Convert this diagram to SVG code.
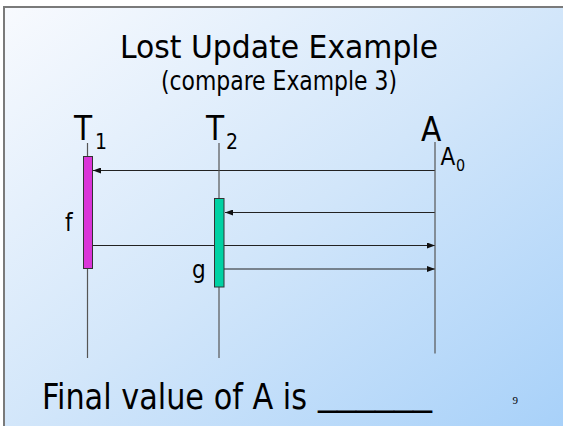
<svg xmlns="http://www.w3.org/2000/svg" width="563" height="426" viewBox="0 0 563 426">
  <defs>
    <linearGradient id="bg" x1="0" y1="0" x2="1" y2="1">
      <stop offset="0" stop-color="#F8FAFE"/>
      <stop offset="0.5" stop-color="#D2E6FA"/>
      <stop offset="1" stop-color="#A6D0F9"/>
    </linearGradient>
    <marker id="ah" viewBox="0 0 8 6" refX="8" refY="3" markerWidth="8" markerHeight="6" markerUnits="userSpaceOnUse" orient="auto">
      <path d="M0,0 L8,3 L0,6 Z" fill="#111"/>
    </marker>
    <style>
      text { font-family: "DejaVu Sans Condensed", "DejaVu Sans", sans-serif; font-stretch: condensed; fill: #000; }
      .life { stroke: #555; stroke-width: 1.2; }
      .msg { stroke: #222; stroke-width: 1.2; fill: none; marker-end: url(#ah); }
      .bar { stroke: #333; stroke-width: 1; }
    </style>
  </defs>
  <rect x="0" y="0" width="563" height="426" fill="#FFFFFF"/>
  <rect x="4" y="7" width="570" height="430" fill="url(#bg)" stroke="#7A7A7A" stroke-width="2"/>

  <text x="279" y="57.5" font-size="32" text-anchor="middle" textLength="318" lengthAdjust="spacingAndGlyphs">Lost Update Example</text>
  <text x="279" y="90" font-size="26" text-anchor="middle" textLength="236" lengthAdjust="spacingAndGlyphs">(compare Example 3)</text>

  <g id="connectors">
    <line class="msg" x1="435" y1="170.5" x2="93" y2="170.5"/>
    <line class="msg" x1="435" y1="212.5" x2="225" y2="212.5"/>
    <line class="msg" x1="92" y1="245.5" x2="435" y2="245.5"/>
    <line class="msg" x1="224" y1="269" x2="435" y2="269"/>
  </g>

  <g id="T1">
    <line class="life" x1="87.5" y1="143" x2="87.5" y2="358"/>
    <text x="74" y="140" font-size="33">T</text>
    <text x="95" y="149" font-size="21">1</text>
    <rect class="bar" x="83.5" y="156.5" width="9" height="112" fill="#DA35D8"/>
    <text x="65" y="230.5" font-size="24">f</text>
  </g>

  <g id="T2">
    <line class="life" x1="219" y1="143" x2="219" y2="358"/>
    <text x="206" y="140" font-size="33">T</text>
    <text x="226" y="149" font-size="21">2</text>
    <rect class="bar" x="214.5" y="198.5" width="9.5" height="88.5" fill="#00D1A3"/>
    <text x="192" y="278" font-size="24">g</text>
  </g>

  <g id="A">
    <line class="life" x1="435" y1="142" x2="435" y2="353.5"/>
    <text x="421" y="140.5" font-size="33">A</text>
    <text x="440.5" y="165" font-size="24">A</text>
    <text x="456" y="170.5" font-size="16">0</text>
  </g>

  <text y="409.3" font-size="36"><tspan x="42" textLength="265" lengthAdjust="spacingAndGlyphs">Final value of A is</tspan><tspan x="318" dy="-4" textLength="114" lengthAdjust="spacingAndGlyphs">______</tspan></text>
  <text x="512.5" y="404" font-size="11" style="font-family: 'Liberation Serif', serif;">9</text>
</svg>
